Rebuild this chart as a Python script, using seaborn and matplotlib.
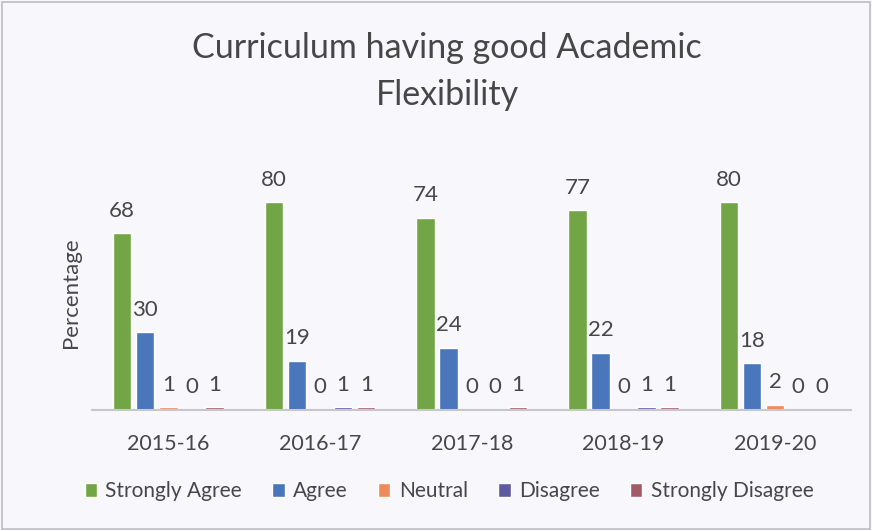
import seaborn as sns
import matplotlib.pyplot as plt
import pandas as pd

# Data
years = ["2015-16", "2016-17", "2017-18", "2018-19", "2019-20"]
responses = ["Strongly Agree", "Agree", "Neutral", "Disagree", "Strongly Disagree"]
strongly_agree = [68, 80, 74, 77, 80]
agree = [30, 19, 24, 22, 18]
neutral = [1, 0, 0, 0, 2]
disagree = [0, 1, 0, 1, 0]
strongly_disagree = [1, 1, 1, 1, 0]

colors = ["#72a545", "#4a76bb", "#ee8a5c", "#5e5a9e", "#a05a68"]

df = pd.DataFrame({
    "Year": years,
    "Strongly Agree": strongly_agree,
    "Agree": agree,
    "Neutral": neutral,
    "Disagree": disagree,
    "Strongly Disagree": strongly_disagree,
})
df = df.melt(id_vars="Year", var_name="Response", value_name="Value")

sns.set_theme(style="white")
plt.rcParams['font.family'] = ['Lato', 'DejaVu Sans']
text_col = '#474747'

fig = plt.figure(figsize=(8.72, 5.31), dpi=100, facecolor='#f8f7fb')
ax = fig.add_axes([0.106, 0.228, 0.87, 0.44])
ax.set_facecolor('#f8f7fb')

sns.barplot(data=df, x="Year", y="Value", hue="Response", hue_order=responses,
            palette=colors, saturation=1, width=0.76, gap=0.2, ax=ax)

for c in ax.containers:
    ax.bar_label(c, padding=9, fontsize=16, color=text_col)

ax.set_ylim(0, 90)
ax.set_xlim(-0.5, 4.5)
ax.set_yticks([])
ax.set_xlabel(None)
ax.set_ylabel('Percentage', fontsize=16, color=text_col, labelpad=8)
ax.tick_params(axis='x', labelsize=15.5, colors=text_col, pad=11)

for s in ['top', 'right', 'left']:
    ax.spines[s].set_visible(False)
ax.spines['bottom'].set_color('#c8c8cc')
ax.spines['bottom'].set_linewidth(1.5)

fig.suptitle('Curriculum having good Academic\nFlexibility', x=0.513, y=0.94,
             fontsize=24.5, color=text_col, linespacing=1.6)

ax.legend(loc='upper center', bbox_to_anchor=(0.47, -0.225), ncol=5,
          frameon=False, fontsize=15, handlelength=0.6, handleheight=0.6,
          handletextpad=0.4, columnspacing=1.45, labelcolor=text_col)

# frame around the chart
fig.patches.append(plt.Rectangle((0.002, 0.003), 0.996, 0.994, transform=fig.transFigure,
                                 fill=False, edgecolor='#bdbdc2', lw=1.2))

plt.savefig('out.png', dpi=100, facecolor=fig.get_facecolor())
